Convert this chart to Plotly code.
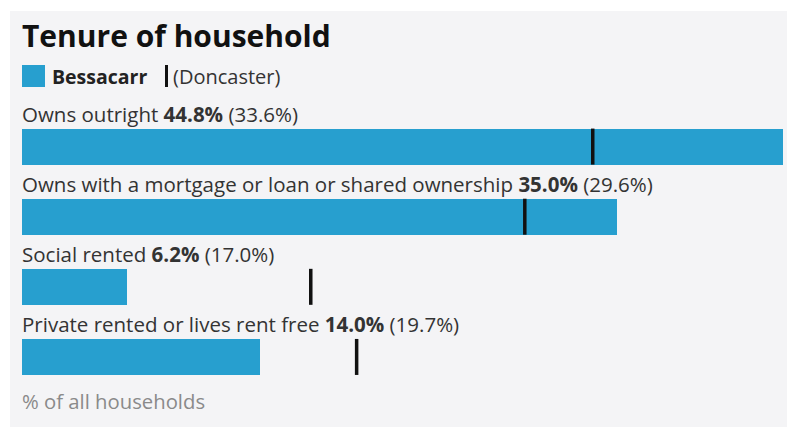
import plotly.graph_objects as go

categories = ["Owns outright",
              "Owns with a mortgage or loan or shared ownership",
              "Social rented",
              "Private rented or lives rent free"]
bessacarr = [44.8, 35.0, 6.2, 14.0]
doncaster = [33.6, 29.6, 17.0, 19.7]

title = "Tenure of household"
area_name = "Bessacarr"
comparator = "Doncaster"
footer = "% of all households"

BAR = "#279fcf"
FONT = "Open Sans"

W, H = 787, 430
L, R, T, B = 22, 4, 95, 45
PW, PH = W - L - R, H - T - B

def xp(px):
    return (px - L) / PW

def yp(py):
    return (H - B - py) / PH

ypos = list(range(len(categories)))

fig = go.Figure()
fig.add_trace(go.Bar(
    x=bessacarr, y=ypos, orientation="h", width=0.514,
    marker=dict(color=BAR, line=dict(width=0)),
    hoverinfo="skip", showlegend=False))
fig.add_trace(go.Scatter(
    x=doncaster, y=ypos, mode="markers",
    marker=dict(symbol="line-ns", size=36 / 1.4, line=dict(width=3.5, color="#111111"), color="#111111"),
    hoverinfo="skip", showlegend=False))

annotations = []
for i, (c, b, d) in enumerate(zip(categories, bessacarr, doncaster)):
    annotations.append(dict(
        x=0, y=i, xref="x", yref="y", xanchor="left", yanchor="middle",
        yshift=33, xshift=-2, showarrow=False,
        text=f"{c} <b>{b:.1f}%</b> ({d:.1f}%)",
        font=dict(family=FONT, size=20.5, color="#333333")))

annotations += [
    dict(x=xp(22), y=yp(35), xref="paper", yref="paper", xanchor="left", yanchor="middle",
         xshift=-2, showarrow=False, text=f"<b>{title}</b>",
         font=dict(family=FONT, size=30, color="#111111")),
    dict(x=xp(52), y=yp(76), xref="paper", yref="paper", xanchor="left", yanchor="middle",
         xshift=-2, showarrow=False, text=f"<b>{area_name}</b>",
         font=dict(family=FONT, size=19.5, color="#222222")),
    dict(x=xp(173), y=yp(76), xref="paper", yref="paper", xanchor="left", yanchor="middle",
         xshift=-2, showarrow=False, text=f"({comparator})",
         font=dict(family=FONT, size=20, color="#333333")),
    dict(x=xp(22), y=yp(401), xref="paper", yref="paper", xanchor="left", yanchor="middle",
         xshift=-2, showarrow=False, text=footer,
         font=dict(family=FONT, size=20.3, color="#8a8a8a")),
]

shapes = [
    dict(type="rect", xref="paper", yref="paper", x0=xp(10), x1=xp(787), y0=yp(427), y1=yp(11),
         fillcolor="#f4f4f6", line=dict(width=0), layer="below"),
    dict(type="rect", xref="paper", yref="paper", x0=xp(22), x1=xp(45), y0=yp(87), y1=yp(65),
         fillcolor=BAR, line=dict(width=0)),
    dict(type="rect", xref="paper", yref="paper", x0=xp(165), x1=xp(168), y0=yp(87), y1=yp(65),
         fillcolor="#111111", line=dict(width=0)),
]

fig.update_layout(
    width=W, height=H,
    margin=dict(l=L, r=R, t=T, b=B, pad=0),
    paper_bgcolor="white", plot_bgcolor="rgba(0,0,0,0)",
    xaxis=dict(range=[0, max(bessacarr)], visible=False, fixedrange=True),
    yaxis=dict(range=[3 + (H - B - 357) / 70, -(146.5 - T) / 70], visible=False, fixedrange=True),
    annotations=annotations, shapes=shapes,
    bargap=0, showlegend=False,
)

fig.write_html("out.html", config={"displayModeBar": False},
               post_script="document.body.style.margin='0px';document.body.style.overflow='hidden';")
